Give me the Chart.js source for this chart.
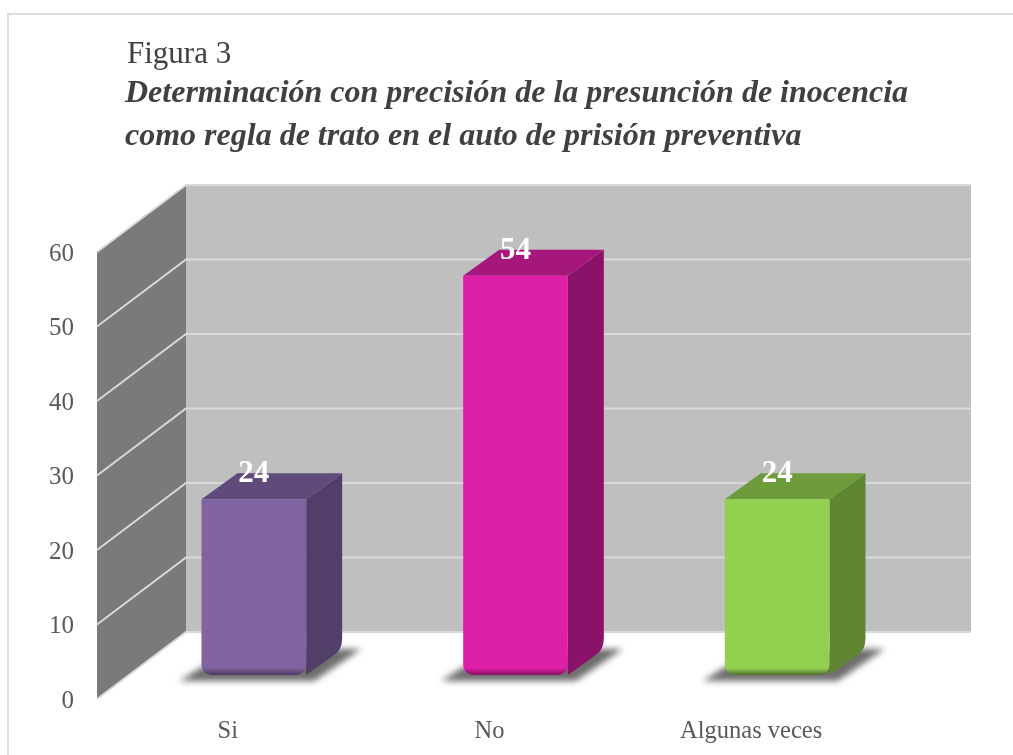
<!DOCTYPE html>
<html lang="es">
<head>
<meta charset="utf-8">
<title>Figura 3</title>
<style>
  html, body { margin: 0; padding: 0; background: #fff; }
  #wrap { position: relative; width: 1013px; height: 755px; overflow: hidden; }
  #frame { position: absolute; left: 7px; top: 13px; right: -4px; bottom: -4px; border: 2px solid #dcdcdc; }
  #chart { position: absolute; left: 0; top: 0; }
  #caption { position: absolute; left: 125px; top: 35px; color: #404040; font-family: "Liberation Serif", serif; }
  #caption .fig { font-size: 31px; line-height: 35px; padding-left: 2px; }
  #caption .tit { font-size: 32px; line-height: 43px; font-weight: bold; font-style: italic; }
</style>
</head>
<body>
<div id="wrap">
  <div id="frame"></div>
  <canvas id="chart" width="1013" height="755"></canvas>
  <div id="caption">
    <div class="fig">Figura 3</div>
    <div class="tit">Determinación con precisión de la presunción de inocencia<br>como regla de trato en el auto de prisión preventiva</div>
  </div>
</div>
<script src="https://cdn.jsdelivr.net/npm/chart.js@4/dist/chart.umd.min.js"></script>
<script>
  const categories = ['Si', 'No', 'Algunas veces'];
  const values = [24, 54, 24];
  const tickMin = 0;
  const tickMax = 60;
  const tickStep = 10;

  const frontColors = ['#8063a1', '#de1fa8', '#92d150'];
  const bevelColors = ['#4a3763', '#86105f', '#4f6f29'];
  const topColors = ['#604a7b', '#a6177e', '#6e9c3c'];
  const sideColors = ['#523f69', '#8a1269', '#5f8632'];

  const WALL = { dx: 89, dy: -67, right: 971 };
  const BAR_SHIFT = { x: 26, y: -21 };   // where the bars stand on the floor
  const BAR_DEPTH = { x: 36, y: -26 };
  const BEVEL = 10;

  const depthPlugin = {
    id: 'depth',
    beforeDatasetsDraw(chart) {
      const { ctx } = chart;
      const y = chart.scales.y;
      const left = y.right;
      const top = y.getPixelForValue(tickMax);
      const bottom = y.getPixelForValue(tickMin);
      const backX = left + WALL.dx;

      // paredes
      ctx.save();
      ctx.fillStyle = '#bfbfbf';
      ctx.fillRect(backX, top + WALL.dy, WALL.right - backX, bottom - top);
      ctx.fillStyle = '#7a7a7a';
      ctx.beginPath();
      ctx.moveTo(left, top);
      ctx.lineTo(backX, top + WALL.dy);
      ctx.lineTo(backX, bottom + WALL.dy);
      ctx.lineTo(left, bottom);
      ctx.closePath();
      ctx.fill();

      // lineas de la escala
      ctx.strokeStyle = '#d9d9d9';
      ctx.lineWidth = 2;
      y.ticks.forEach((t) => {
        const py = y.getPixelForValue(t.value);
        ctx.beginPath();
        ctx.moveTo(left, py);
        ctx.lineTo(backX, py + WALL.dy);
        ctx.lineTo(WALL.right, py + WALL.dy);
        ctx.stroke();
      });
      ctx.restore();

      // sombra y caras de cada barra
      chart.getDatasetMeta(0).data.forEach((bar, i) => {
        const l = bar.x - bar.width / 2 + BAR_SHIFT.x;
        const r = bar.x + bar.width / 2 + BAR_SHIFT.x;
        const t = bar.y + BAR_SHIFT.y;
        const b = bar.base + BAR_SHIFT.y;

        ctx.save();
        ctx.filter = 'blur(3px)';
        ctx.fillStyle = 'rgba(85,85,85,0.85)';
        ctx.beginPath();
        ctx.moveTo(l - 22, b + 6);
        ctx.lineTo(r + 8, b + 6);
        ctx.lineTo(r + 55, b - 26);
        ctx.lineTo(r + 10, b - 26);
        ctx.lineTo(l, b - 8);
        ctx.closePath();
        ctx.fill();
        ctx.restore();

        ctx.save();
        ctx.fillStyle = sideColors[i];
        ctx.beginPath();
        ctx.moveTo(r, t);
        ctx.lineTo(r + BAR_DEPTH.x, t + BAR_DEPTH.y);
        ctx.lineTo(r + BAR_DEPTH.x, b + BAR_DEPTH.y - BEVEL - 1);
        ctx.quadraticCurveTo(r + BAR_DEPTH.x, b + BAR_DEPTH.y + 1, r + BAR_DEPTH.x - 8, b + BAR_DEPTH.y + 6);
        ctx.lineTo(r, b);
        ctx.closePath();
        ctx.fill();

        ctx.fillStyle = topColors[i];
        ctx.beginPath();
        ctx.moveTo(l, t);
        ctx.lineTo(l + BAR_DEPTH.x, t + BAR_DEPTH.y);
        ctx.lineTo(r + BAR_DEPTH.x, t + BAR_DEPTH.y);
        ctx.lineTo(r, t);
        ctx.closePath();
        ctx.fill();
        ctx.restore();
      });

      // las barras nativas se dibujan desplazadas sobre el piso
      ctx.save();
      ctx.translate(BAR_SHIFT.x, BAR_SHIFT.y);
    },
    afterDatasetsDraw(chart) {
      const { ctx } = chart;
      ctx.restore();

      ctx.save();
      ctx.fillStyle = '#fff';
      ctx.font = 'bold 31px "Liberation Serif", serif';
      ctx.textAlign = 'center';
      ctx.textBaseline = 'middle';
      chart.getDatasetMeta(0).data.forEach((bar, i) => {
        ctx.fillText(values[i], bar.x + BAR_SHIFT.x, bar.y + BAR_SHIFT.y - 25);
      });
      ctx.restore();
    }
  };

  // cara frontal con el borde inferior mas oscuro
  function frontFill(c) {
    const i = c.dataIndex;
    const bottom = c.chart.scales.y.getPixelForValue(0.4);
    if (!Number.isFinite(bottom)) return frontColors[i];
    const g = c.chart.ctx.createLinearGradient(0, bottom - 7, 0, bottom);
    g.addColorStop(0, frontColors[i]);
    g.addColorStop(1, bevelColors[i]);
    return g;
  }

  new Chart(document.getElementById('chart'), {
    type: 'bar',
    data: {
      labels: categories,
      datasets: [{
        data: values,
        base: 0.4,
        backgroundColor: frontFill,
        borderSkipped: false,
        borderRadius: { topLeft: 0, topRight: 0, bottomLeft: BEVEL, bottomRight: BEVEL },
        categoryPercentage: 1,
        barPercentage: 0.4
      }]
    },
    options: {
      responsive: false,
      animation: false,
      layout: { padding: { left: 0, top: 252, right: 131, bottom: 0 } },
      plugins: { legend: { display: false }, tooltip: { enabled: false } },
      scales: {
        x: {
          grid: { display: false },
          border: { display: false },
          afterFit(scale) { scale.height = 56; },
          ticks: { color: '#595959', padding: 10, maxRotation: 0, font: { family: '"Liberation Serif", serif', size: 24.5 } }
        },
        y: {
          min: tickMin,
          max: tickMax,
          grid: { display: false },
          border: { display: false },
          afterFit(scale) { scale.width = 97; },
          ticks: { stepSize: tickStep, color: '#595959', padding: 15, labelOffset: 2, font: { family: '"Liberation Serif", serif', size: 25 } }
        }
      }
    },
    plugins: [depthPlugin]
  });
</script>
</body>
</html>
